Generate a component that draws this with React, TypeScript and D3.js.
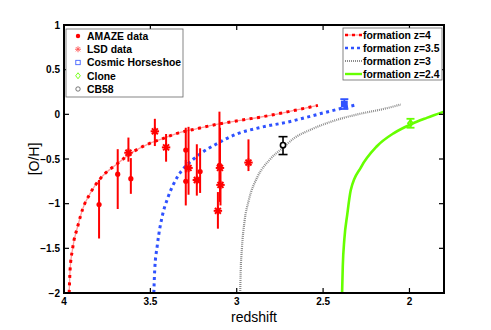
import React from "react";
import * as d3 from "d3";

// ---- data ----
const X_TICKS = [4, 3.5, 3, 2.5, 2];
const X_TICK_LABELS = ["4", "3.5", "3", "2.5", "2"];
const Y_TICKS = [1, 0.5, 0, -0.5, -1, -1.5, -2];
const Y_TICK_LABELS = ["1", "0.5", "0", "\u22120.5", "\u22121", "\u22121.5", "\u22122"];

// formation curves
const Z4_Z = [3.97, 3.965, 3.95, 3.92, 3.89, 3.85, 3.79, 3.69, 3.6, 3.51, 3.44, 3.34, 3.24, 3.11, 2.99, 2.86, 2.7, 2.53];
const Z4_OH = [-2.0, -1.75, -1.5, -1.25, -1.05, -0.89, -0.72, -0.55, -0.42, -0.33, -0.28, -0.21, -0.165, -0.11, -0.07, -0.03, 0.03, 0.1];

const Z35_Z = [3.48, 3.475, 3.46, 3.43, 3.4, 3.34, 3.3, 3.25, 3.21, 3.125, 3.0, 2.87, 2.69, 2.57, 2.45, 2.31];
const Z35_OH = [-2.0, -1.75, -1.47, -1.13, -0.94, -0.69, -0.59, -0.5, -0.44, -0.34, -0.22, -0.15, -0.08, -0.02, 0.04, 0.105];

const Z3_Z = [2.98, 2.977, 2.97, 2.955, 2.93, 2.88, 2.81, 2.73, 2.67, 2.57, 2.45, 2.3, 2.15, 2.05];
const Z3_OH = [-2.0, -1.75, -1.5, -1.2, -0.96, -0.7, -0.51, -0.37, -0.27, -0.17, -0.08, 0.0, 0.06, 0.11];

const Z24_Z = [2.39, 2.386, 2.377, 2.36, 2.34, 2.28, 2.19, 2.09, 1.99, 1.9, 1.8];
const Z24_OH = [-2.0, -1.7, -1.4, -1.12, -0.85, -0.59, -0.36, -0.21, -0.11, -0.04, 0.03];

// AMAZE data (filled circles)
const AMAZE_Z = [3.797, 3.689, 3.613, 3.295, 3.295, 3.212, 3.1];
const AMAZE_OH = [-1.01, -0.67, -0.72, -0.4, -0.75, -0.64, -0.57];
const AMAZE_HI = [-0.735, -0.39, -0.49, -0.15, -0.51, -0.38, 0.03];
const AMAZE_LO = [-1.39, -1.06, -0.89, -0.65, -1.02, -0.88, -0.79];

// LSD data (asterisks)
const LSD_Z = [3.627, 3.474, 3.409, 3.279, 3.231, 3.097, 3.094, 3.109, 2.932];
const LSD_OH = [-0.43, -0.19, -0.37, -0.6, -0.735, -0.6, -0.79, -1.08, -0.54];
const LSD_HI = [-0.26, -0.05, -0.22, -0.14, -0.335, -0.15, -0.55, -0.87, -0.28];
const LSD_LO = [-0.53, -0.355, -0.53, -0.9, -0.91, -0.98, -1.02, -1.28, -0.635];

// single objects
const HORSESHOE = { z: 2.377, oh: 0.115, hi: 0.17, lo: 0.06 };
const CLONE = { z: 1.994, oh: -0.1, hi: -0.05, lo: -0.15 };
const CB58 = { z: 2.732, oh: -0.345, hi: -0.25, lo: -0.45 };

const LEFT_LEGEND = ["AMAZE data", "LSD data", "Cosmic Horseshoe", "Clone", "CB58"];
const RIGHT_LEGEND = ["formation z=4", "formation z=3.5", "formation z=3", "formation z=2.4"];

const RED = "#ff0000";
const BLUE = "#2f52ff";
const GRAY = "#8c8c8c";
const GREEN = "#66ff00";
const FONT = "'Liberation Sans', Arial, Helvetica, sans-serif";

const W = 491, H = 330;
const L = 64, R = 444, T = 25, B = 293;

export default function App() {
  const x = d3.scaleLinear().domain([4, 1.8]).range([L, R]);
  const y = d3.scaleLinear().domain([-2, 1]).range([B, T]);
  const line = d3
    .line<[number, number]>()
    .x((d) => x(d[0]))
    .y((d) => y(d[1]))
    .curve(d3.curveMonotoneX);
  const pts = (zs: number[], os: number[]) => zs.map((z, i) => [z, os[i]] as [number, number]);

  const star = (cx: number, cy: number, s: number, sw: number, color: string, key?: any) => {
    const segs = [0, 45, 90, 135].map((a) => {
      const r = (a * Math.PI) / 180;
      return (
        <line key={a} x1={cx - s * Math.cos(r)} y1={cy - s * Math.sin(r)} x2={cx + s * Math.cos(r)} y2={cy + s * Math.sin(r)} stroke={color} strokeWidth={sw} />
      );
    });
    return <g key={key}>{segs}</g>;
  };

  const legendLeftY = (i: number) => 36 + i * 13.25;
  const legendRightY = (i: number) => 35 + i * 13;

  return (
    <svg width={W} height={H} style={{ position: "absolute", left: 0, top: 0, background: "#fff" }} fontFamily={FONT}>
      <defs>
        <clipPath id="plotclip">
          <rect x={L} y={T} width={R - L} height={B - T} />
        </clipPath>
      </defs>
      <rect x={0} y={0} width={W} height={H} fill="#fff" />

      <g clipPath="url(#plotclip)">
        {/* formation z=4 */}
        <path d={line(pts(Z4_Z, Z4_OH)) || ""} fill="none" stroke="#ff9a9a" strokeWidth={1.3} />
        <path d={line(pts(Z4_Z, Z4_OH)) || ""} fill="none" stroke={RED} strokeWidth={3} strokeDasharray="3,4.5" />
        {/* formation z=3.5 */}
        <path d={line(pts(Z35_Z, Z35_OH)) || ""} fill="none" stroke={BLUE} strokeWidth={3} strokeDasharray="3,3.5" />
        {/* formation z=3 */}
        <path d={line(pts(Z3_Z, Z3_OH)) || ""} fill="none" stroke={GRAY} strokeWidth={2.2} strokeDasharray="1,1" />
        {/* formation z=2.4 */}
        <path d={line(pts(Z24_Z, Z24_OH)) || ""} fill="none" stroke={GREEN} strokeWidth={2.6} />

        {/* AMAZE */}
        {AMAZE_Z.map((z, i) => (
          <g key={"a" + i}>
            <line x1={x(z)} x2={x(z)} y1={y(AMAZE_HI[i])} y2={y(AMAZE_LO[i])} stroke={RED} strokeWidth={2} />
            <circle cx={x(z)} cy={y(AMAZE_OH[i])} r={2.6} fill={RED} />
          </g>
        ))}
        {/* LSD */}
        {LSD_Z.map((z, i) => (
          <g key={"l" + i}>
            <line x1={x(z)} x2={x(z)} y1={y(LSD_HI[i])} y2={y(LSD_LO[i])} stroke={RED} strokeWidth={2} />
            {star(x(z), y(LSD_OH[i]), 4.2, 2, RED)}
          </g>
        ))}

        {/* Cosmic Horseshoe */}
        <g stroke={BLUE} strokeWidth={1.8}>
          <line x1={x(HORSESHOE.z)} x2={x(HORSESHOE.z)} y1={y(HORSESHOE.hi)} y2={y(HORSESHOE.lo)} />
          <line x1={x(HORSESHOE.z) - 4} x2={x(HORSESHOE.z) + 4} y1={y(HORSESHOE.hi)} y2={y(HORSESHOE.hi)} />
          <line x1={x(HORSESHOE.z) - 4} x2={x(HORSESHOE.z) + 4} y1={y(HORSESHOE.lo)} y2={y(HORSESHOE.lo)} />
          <rect x={x(HORSESHOE.z) - 2.5} y={y(HORSESHOE.oh) - 2.5} width={5} height={5} fill={BLUE} />
        </g>
        {/* Clone */}
        <g stroke={GREEN} strokeWidth={1.8}>
          <line x1={x(CLONE.z)} x2={x(CLONE.z)} y1={y(CLONE.hi)} y2={y(CLONE.lo)} />
          <line x1={x(CLONE.z) - 4} x2={x(CLONE.z) + 4} y1={y(CLONE.hi)} y2={y(CLONE.hi)} />
          <line x1={x(CLONE.z) - 4} x2={x(CLONE.z) + 4} y1={y(CLONE.lo)} y2={y(CLONE.lo)} />
          <path d={`M${x(CLONE.z)},${y(CLONE.oh) - 3}L${x(CLONE.z) + 2.5},${y(CLONE.oh)}L${x(CLONE.z)},${y(CLONE.oh) + 3}L${x(CLONE.z) - 2.5},${y(CLONE.oh)}Z`} fill="none" />
        </g>
        {/* CB58 */}
        <g stroke="#000" strokeWidth={1.6}>
          <line x1={x(CB58.z)} x2={x(CB58.z)} y1={y(CB58.hi)} y2={y(CB58.lo)} />
          <line x1={x(CB58.z) - 4.5} x2={x(CB58.z) + 4.5} y1={y(CB58.hi)} y2={y(CB58.hi)} />
          <line x1={x(CB58.z) - 4.5} x2={x(CB58.z) + 4.5} y1={y(CB58.lo)} y2={y(CB58.lo)} />
          <circle cx={x(CB58.z)} cy={y(CB58.oh)} r={2.6} fill="#fff" />
        </g>
      </g>

      {/* axes box */}
      <rect x={L} y={T} width={R - L} height={B - T} fill="none" stroke="#000" strokeWidth={2} />
      {X_TICKS.map((t, i) => (
        <g key={"xt" + i}>
          <line x1={x(t)} x2={x(t)} y1={B} y2={B - 5} stroke="#000" strokeWidth={1.2} />
          <line x1={x(t)} x2={x(t)} y1={T} y2={T + 5} stroke="#000" strokeWidth={1.2} />
          <text x={x(t)} y={305} textAnchor="middle" fontSize={10} fontWeight="bold">
            {X_TICK_LABELS[i]}
          </text>
        </g>
      ))}
      {Y_TICKS.map((t, i) => (
        <g key={"yt" + i}>
          <line x1={L} x2={L + 5} y1={y(t)} y2={y(t)} stroke="#000" strokeWidth={1.2} />
          <line x1={R} x2={R - 5} y1={y(t)} y2={y(t)} stroke="#000" strokeWidth={1.2} />
          <text x={60} y={y(t) + 3.5} textAnchor="end" fontSize={10} fontWeight="bold">
            {Y_TICK_LABELS[i]}
          </text>
        </g>
      ))}
      <text x={254} y={322} textAnchor="middle" fontSize={14}>
        redshift
      </text>
      <text transform={`translate(39,${(T + B) / 2}) rotate(-90)`} textAnchor="middle" fontSize={14}>
        [O/H]
      </text>

      {/* left legend */}
      <rect x={66} y={29} width={117} height={68} fill="#fff" stroke="#666" strokeWidth={0.8} />
      {LEFT_LEGEND.map((lab, i) => {
        const ly = legendLeftY(i);
        const mx = 78;
        let marker: any = null;
        if (i === 0) marker = <circle cx={mx} cy={ly} r={2.2} fill={RED} />;
        if (i === 1) marker = star(mx, ly, 3, 0.9, "#ff5555");
        if (i === 2) marker = <rect x={mx - 2.2} y={ly - 2.2} width={4.4} height={4.4} fill="none" stroke={BLUE} strokeWidth={0.8} />;
        if (i === 3) marker = <path d={`M${mx},${ly - 3}L${mx + 2.3},${ly}L${mx},${ly + 3}L${mx - 2.3},${ly}Z`} fill="none" stroke={GREEN} strokeWidth={0.9} />;
        if (i === 4) marker = <circle cx={mx} cy={ly} r={2.2} fill="none" stroke="#555" strokeWidth={0.8} />;
        return (
          <g key={"ll" + i}>
            {marker}
            <text x={87} y={ly + 3.8} fontSize={10.4} fontWeight="bold">
              {lab}
            </text>
          </g>
        );
      })}

      {/* right legend */}
      <rect x={343} y={28} width={99} height={52} fill="#fff" stroke="#666" strokeWidth={0.8} />
      {RIGHT_LEGEND.map((lab, i) => {
        const ly = legendRightY(i);
        let sample: any = null;
        if (i === 0)
          sample = (
            <g>
              <line x1={345} x2={362} y1={ly} y2={ly} stroke="#ff9a9a" strokeWidth={1.2} />
              <line x1={345} x2={362} y1={ly} y2={ly} stroke={RED} strokeWidth={2.6} strokeDasharray="3,4" />
            </g>
          );
        if (i === 1) sample = <line x1={345} x2={362} y1={ly} y2={ly} stroke={BLUE} strokeWidth={2.6} strokeDasharray="3,3" />;
        if (i === 2) sample = <line x1={345} x2={362} y1={ly} y2={ly} stroke={GRAY} strokeWidth={1.8} strokeDasharray="1,1" />;
        if (i === 3) sample = <line x1={345} x2={362} y1={ly} y2={ly} stroke={GREEN} strokeWidth={2.4} />;
        return (
          <g key={"rl" + i}>
            {sample}
            <text x={363} y={ly + 3.8} fontSize={10.4} fontWeight="bold">
              {lab}
            </text>
          </g>
        );
      })}
    </svg>
  );
}
